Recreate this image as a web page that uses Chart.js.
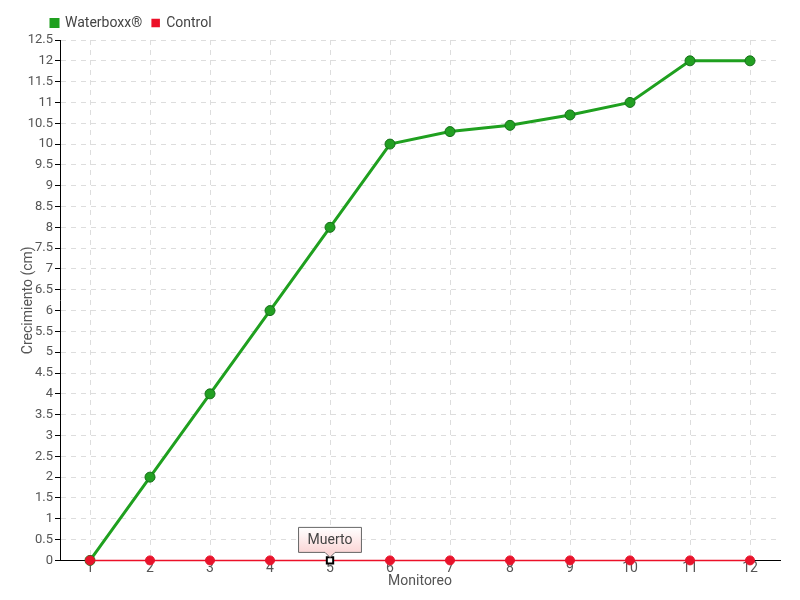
<!DOCTYPE html>
<html>
<head>
<meta charset="utf-8">
<script src="https://cdn.jsdelivr.net/npm/chart.js@4.4.0/dist/chart.umd.min.js"></script>
<style>
  html, body { margin: 0; padding: 0; background: #fff; }
  #wrap { width: 800px; height: 600px; }
</style>
</head>
<body>
<div id="wrap"><canvas id="chart" width="800" height="600"></canvas></div>
<script>
// datos del monitoreo
const monitoreos = ['1', '2', '3', '4', '5', '6', '7', '8', '9', '10', '11', '12'];
const waterboxx = [0, 2, 4, 6, 8, 10, 10.3, 10.45, 10.7, 11, 12, 12];
const control = [0, 0, 0, 0, 0, 0, 0, 0, 0, 0, 0, 0];
const etiquetaIndex = 4;
const etiquetaTexto = 'Muerto';

const FONT = "Roboto, sans-serif";
Chart.defaults.font.family = FONT;
Chart.defaults.color = '#555';

// etiqueta "Muerto" sobre el punto del control
const etiquetaPlugin = {
  id: 'etiqueta',
  afterLayout(chart) {
    // correr la leyenda un poco a la derecha
    chart.legend.left += 35;
  },
  afterDatasetsDraw(chart) {
    const meta = chart.getDatasetMeta(1);
    const pt = meta.data[etiquetaIndex];
    if (!pt) return;
    const ctx = chart.ctx;
    ctx.save();
    ctx.font = '14px ' + FONT;
    const w = ctx.measureText(etiquetaTexto).width + 18;
    const h = 25;
    const x0 = pt.x - w / 2;
    const y1 = pt.y - 8;
    const y0 = y1 - h;
    const g = ctx.createLinearGradient(0, y0, 0, y1);
    g.addColorStop(0, '#ffffff');
    g.addColorStop(1, '#fbd6d6');
    ctx.beginPath();
    ctx.moveTo(x0, y0);
    ctx.lineTo(x0 + w, y0);
    ctx.lineTo(x0 + w, y1);
    ctx.lineTo(pt.x + 5, y1);
    ctx.lineTo(pt.x, y1 + 5);
    ctx.lineTo(pt.x - 5, y1);
    ctx.lineTo(x0, y1);
    ctx.closePath();
    ctx.fillStyle = g;
    ctx.fill();
    ctx.strokeStyle = '#666';
    ctx.lineWidth = 1;
    ctx.stroke();
    ctx.fillStyle = '#444';
    ctx.textAlign = 'center';
    ctx.textBaseline = 'middle';
    ctx.fillText(etiquetaTexto, pt.x, y0 + h / 2 + 1);
    ctx.restore();
  }
};

const ctrlBg = control.map((v, i) => i === etiquetaIndex ? '#ffffff' : '#e8132b');
const ctrlBorder = control.map((v, i) => i === etiquetaIndex ? '#000000' : '#e8132b');
const ctrlStyle = control.map((v, i) => i === etiquetaIndex ? 'rect' : 'circle');

new Chart(document.getElementById('chart'), {
  type: 'line',
  data: {
    labels: monitoreos,
    datasets: [
      {
        label: 'Waterboxx®',
        data: waterboxx,
        borderColor: '#1fa01f',
        backgroundColor: '#1fa01f',
        borderWidth: 3,
        pointRadius: 5,
        pointBackgroundColor: '#22a022',
        pointBorderColor: '#16701a',
        pointBorderWidth: 1,
        tension: 0,
        clip: 8,
        order: 2
      },
      {
        label: 'Control',
        data: control,
        borderColor: '#ec1028',
        backgroundColor: '#ec1028',
        borderWidth: 1.5,
        pointRadius: 4.5,
        pointBackgroundColor: ctrlBg,
        pointBorderColor: ctrlBorder,
        pointBorderWidth: control.map((v, i) => i === etiquetaIndex ? 2 : 1),
        pointStyle: ctrlStyle,
        tension: 0,
        clip: 8,
        order: 1
      }
    ]
  },
  options: {
    responsive: false,
    animation: false,
    layout: { padding: { top: 6, right: 20, left: 6, bottom: 10 } },
    plugins: {
      legend: {
        position: 'top',
        align: 'start',
        labels: {
          sort: (a, b) => a.datasetIndex - b.datasetIndex,
          boxWidth: 7,
          boxHeight: 7,
          padding: 10,
          font: { size: 14 },
          color: '#444'
        }
      },
      tooltip: { enabled: false }
    },
    scales: {
      x: {
        offset: true,
        title: { display: true, text: 'Monitoreo', font: { size: 14 }, color: '#555', padding: { top: -4, bottom: 0 } },
        grid: { offset: false, color: '#ddd', drawTicks: false, tickLength: 0 },
        border: { color: '#000', dash: [5, 5], display: true },
        ticks: { font: { size: 14 }, color: '#555', padding: 0 }
      },
      y: {
        min: 0,
        max: 12.5,
        afterFit: scale => { scale.width = 54; },
        title: { display: true, text: 'Crecimiento (cm)', font: { size: 14 }, color: '#555', padding: { top: 14, bottom: 0 } },
        grid: { color: '#ddd', tickColor: '#000', tickLength: 5 },
        border: { color: '#000', dash: [5, 5] },
        ticks: {
          stepSize: 0.5, font: { size: 13 }, color: '#555', padding: 2, autoSkip: false,
          callback: v => String(v)
        }
      }
    }
  },
  plugins: [etiquetaPlugin]
});
</script>
</body>
</html>
